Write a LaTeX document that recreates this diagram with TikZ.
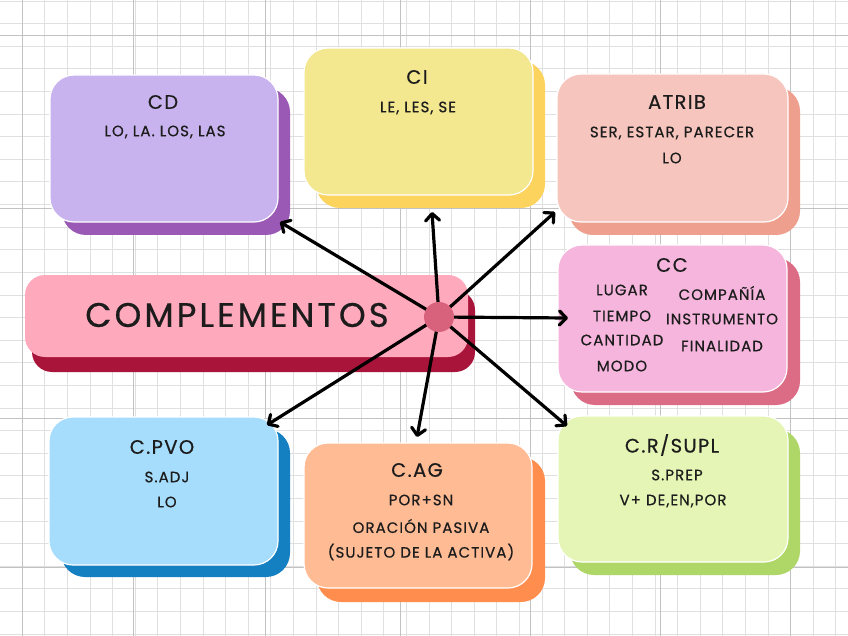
\documentclass[tikz,border=0pt]{standalone}
\usepackage{fontspec}
\setmainfont{Poppins}[LetterSpace=7, FakeBold=0.6]
\usetikzlibrary{arrows.meta}
\definecolor{cdF}{HTML}{C8B3EE}\definecolor{cdB}{HTML}{9B59B6}
\definecolor{ciF}{HTML}{F3E88F}\definecolor{ciB}{HTML}{FCD35C}
\definecolor{atF}{HTML}{F6C6BE}\definecolor{atB}{HTML}{EF9F8E}
\definecolor{ccF}{HTML}{F5B5DC}\definecolor{ccB}{HTML}{DC6C86}
\definecolor{pvF}{HTML}{A6DCFC}\definecolor{pvB}{HTML}{1480C2}
\definecolor{agF}{HTML}{FFBB94}\definecolor{agB}{HTML}{FF8D4E}
\definecolor{crF}{HTML}{E4F5B5}\definecolor{crB}{HTML}{AFD768}
\definecolor{coF}{HTML}{FFA9BD}\definecolor{coB}{HTML}{A9143A}
\definecolor{hubC}{HTML}{D8627B}
\definecolor{ink}{HTML}{1C1C1C}
\tikzset{
  card/.style={rectangle, rounded corners=24pt, inner sep=0pt},
  front/.style={card, draw=white, line width=1.2pt},
  ttl/.style={text=ink, font=\fontsize{19.5}{22}\selectfont, inner sep=0pt},
  txt/.style={text=ink, font=\fontsize{15}{18}\selectfont, inner sep=0pt},
  arr/.style={draw=black, line width=3.2pt, line cap=round,
    -{Straight Barb[length=7pt,width=14pt,line cap=round,line join=round]}},
  hub/.style={circle, fill=hubC, minimum size=30pt, inner sep=0pt},
  gridminor/.style={draw=black!12, line width=0.6pt},
  gridmajor/.style={draw=black!24, line width=0.7pt}
}
\begin{document}
\begin{tikzpicture}[x=1pt,y=-1pt]
\useasboundingbox (0,0) rectangle (848,636);
\fill[white] (0,0) rectangle (848,636);
\foreach \i in {0,...,38} \draw[gridminor] (\i*22.6-0.5,0) -- (\i*22.6-0.5,636);
\foreach \i in {0,...,28} \draw[gridminor] (0,\i*22.6+1) -- (848,\i*22.6+1);
\foreach \x in {22,133,265,400,530,660,790} \draw[gridmajor] (\x,0) -- (\x,636);
\foreach \y in {35,208,418,567} \draw[gridmajor] (0,\y) -- (848,\y);
% shadows
\node[card, fill=cdB, minimum width=228pt, minimum height=147pt] (cdS) at (176,161.5) {};
\node[card, fill=ciB, minimum width=229pt, minimum height=147pt] (ciS) at (430.5,134.5) {};
\node[card, fill=atB, minimum width=231pt, minimum height=148pt] (atS) at (684.5,161) {};
\node[card, fill=ccB, minimum width=229pt, minimum height=147pt] (ccS) at (685.5,331.5) {};
\node[card, fill=pvB, minimum width=229pt, minimum height=148pt] (pvS) at (175.5,503) {};
\node[card, fill=agB, minimum width=228pt, minimum height=145pt] (agS) at (431,529.5) {};
\node[card, fill=crB, minimum width=230pt, minimum height=146pt] (crS) at (685,502) {};
\node[card, rounded corners=20pt, fill=coB, minimum width=443pt, minimum height=82pt] (coS) at (253.5,331) {};
% fronts
\node[front, fill=cdF, minimum width=228pt, minimum height=147pt] (cd) at (164,148.5) {};
\node[front, fill=ciF, minimum width=229pt, minimum height=147pt] (ci) at (418.5,121.5) {};
\node[front, fill=atF, minimum width=231pt, minimum height=148pt] (at) at (672.5,148) {};
\node[front, fill=ccF, minimum width=229pt, minimum height=147pt] (cc) at (672.5,318.5) {};
\node[front, fill=pvF, minimum width=229pt, minimum height=148pt] (pv) at (163.5,491) {};
\node[front, fill=agF, minimum width=228pt, minimum height=145pt] (ag) at (418,515.5) {};
\node[front, fill=crF, minimum width=230pt, minimum height=146pt] (cr) at (673,489) {};
\node[front, rounded corners=20pt, fill=coF, draw=none, minimum width=443pt, minimum height=82pt] (co) at (246.5,316) {};
% texts
\node[ttl] (cdT) at (163,102) {CD};
\node[txt] (cdA) at (165,132) {LO, LA. LOS, LAS};
\node[ttl] (ciT) at (417,77) {CI};
\node[txt] (ciA) at (418,108) {LE, LES, SE};
\node[ttl] (atT) at (677,102) {ATRIB};
\node[txt] (atA) at (672,133) {SER, ESTAR, PARECER};
\node[txt] (atB) at (672,158) {LO};
\node[ttl] (ccT) at (672,265) {CC};
\node[txt] (cc1) at (622,290) {LUGAR};
\node[txt] (cc2) at (622,316) {TIEMPO};
\node[txt] (cc3) at (622,340) {CANTIDAD};
\node[txt] (cc4) at (622,366) {MODO};
\node[txt] (cc5) at (722,293) {COMPAÑÍA};
\node[txt] (cc6) at (722,319) {INSTRUMENTO};
\node[txt] (cc7) at (722,346) {FINALIDAD};
\node[ttl] (pvT) at (162,447) {C.PVO};
\node[txt] (pvA) at (167,477) {S.ADJ};
\node[txt] (pvB) at (167,502) {LO};
\node[ttl] (agT) at (417,470) {C.AG};
\node[txt] (agA) at (421,500) {POR+SN};
\node[txt] (agB) at (421,526) {ORACIÓN PASIVA};
\node[txt] (agC) at (421,552) {(SUJETO DE LA ACTIVA)};
\node[ttl] (crT) at (672,445) {C.R/SUPL};
\node[txt] (crA) at (677,475) {S.PREP};
\node[txt] (crB) at (673,501) {V+ DE,EN,POR};
\node[text=ink, font=\fontsize{34}{38}\selectfont\addfontfeature{LetterSpace=9}, inner sep=0pt] (coT) at (237,315) {COMPLEMENTOS};
% connectors
\coordinate (hubc) at (439,317);
\coordinate (tcd) at (280,222);
\coordinate (tci) at (432,212);
\coordinate (tat) at (555,212);
\coordinate (tcc) at (568,318);
\coordinate (tpv) at (267,425);
\coordinate (tag) at (417,437);
\coordinate (tcr) at (567,426);
\foreach \t in {tcd,tci,tat,tcc,tpv,tag,tcr} \draw[arr] (hubc) -- (\t);
\node[hub] (hub) at (hubc) {};
\end{tikzpicture}
\end{document}
